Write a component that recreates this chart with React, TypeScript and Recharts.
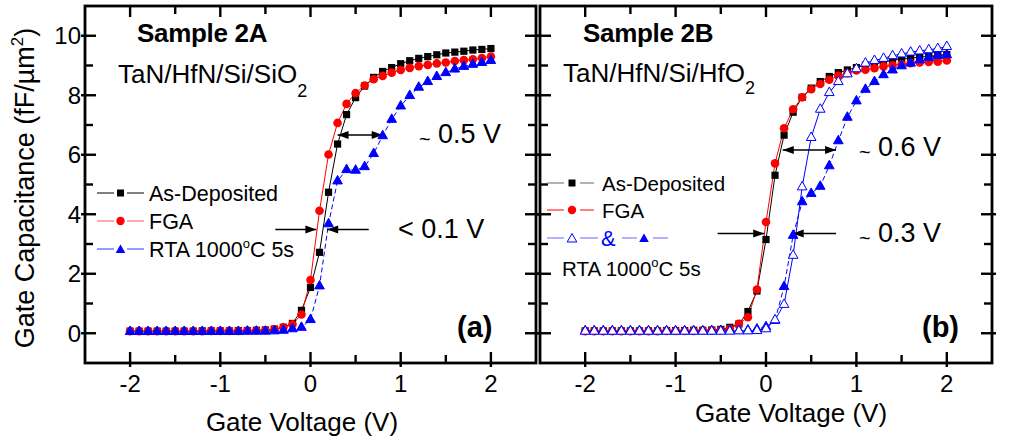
import React from 'react';
import { LineChart, Line, XAxis, YAxis, ReferenceLine } from 'recharts';

const FONT = '"Liberation Sans", Arial, Helvetica, sans-serif';

// Gate voltage (V)
const voltages = [
  -2.0, -1.9, -1.8, -1.7, -1.6, -1.5, -1.4, -1.3, -1.2, -1.1, -1.0, -0.9, -0.8, -0.7, -0.6,
  -0.5, -0.4, -0.3, -0.2, -0.1, 0.0, 0.1, 0.2, 0.3, 0.4, 0.5, 0.6, 0.7, 0.8, 0.9, 1.0,
  1.1, 1.2, 1.3, 1.4, 1.5, 1.6, 1.7, 1.8, 1.9, 2.0,
];

// Sample 2A (fF/um^2)
const asDep2A = [
  0.07, 0.07, 0.07, 0.07, 0.07, 0.07, 0.07, 0.07, 0.08, 0.08, 0.08, 0.08, 0.09, 0.09, 0.1,
  0.11, 0.14, 0.2, 0.33, 0.77, 1.54, 2.72, 4.74, 6.36, 7.35, 7.92, 8.31, 8.6, 8.8, 8.93, 9.06,
  9.16, 9.24, 9.3, 9.36, 9.42, 9.45, 9.48, 9.52, 9.54, 9.57,
];
const fga2A = [
  0.07, 0.07, 0.07, 0.07, 0.07, 0.07, 0.07, 0.07, 0.07, 0.08, 0.08, 0.08, 0.08, 0.09, 0.09,
  0.1, 0.13, 0.2, 0.3, 0.63, 1.79, 4.12, 6.01, 7.07, 7.71, 8.07, 8.33, 8.54, 8.65, 8.76, 8.85,
  8.92, 8.98, 9.02, 9.07, 9.1, 9.15, 9.18, 9.21, 9.25, 9.3,
];
const rta2A = [
  0.06, 0.06, 0.06, 0.06, 0.06, 0.06, 0.06, 0.06, 0.06, 0.06, 0.06, 0.06, 0.06, 0.07, 0.07,
  0.07, 0.08, 0.1, 0.15, 0.2, 0.46, 1.59, 3.68, 5.12, 5.5, 5.48, 5.6, 6.04, 6.64, 7.19, 7.64,
  7.99, 8.27, 8.46, 8.63, 8.76, 8.88, 8.97, 9.04, 9.1, 9.17,
];

// Sample 2B (fF/um^2)
const asDep2B = [
  0.08, 0.08, 0.08, 0.08, 0.08, 0.08, 0.08, 0.08, 0.08, 0.09, 0.09, 0.09, 0.1, 0.1, 0.11,
  0.13, 0.2, 0.31, 0.73, 1.42, 3.15, 5.31, 6.66, 7.43, 7.93, 8.24, 8.46, 8.63, 8.76, 8.85, 8.93,
  9.01, 9.08, 9.12, 9.18, 9.21, 9.25, 9.28, 9.31, 9.34, 9.37,
];
const fga2B = [
  0.07, 0.07, 0.07, 0.07, 0.07, 0.07, 0.07, 0.07, 0.07, 0.08, 0.08, 0.08, 0.08, 0.09, 0.09,
  0.1, 0.15, 0.32, 0.54, 1.47, 3.74, 5.71, 6.89, 7.53, 7.93, 8.2, 8.38, 8.52, 8.65, 8.74, 8.83,
  8.86, 8.91, 8.97, 9.01, 9.04, 9.08, 9.1, 9.12, 9.13, 9.17,
];
const rtaOpen2B = [
  0.07, 0.07, 0.07, 0.07, 0.07, 0.07, 0.07, 0.07, 0.07, 0.07, 0.07, 0.07, 0.07, 0.07, 0.07,
  0.07, 0.07, 0.08, 0.08, 0.09, 0.15, 0.45, 0.97, 2.62, 4.92, 6.58, 7.53, 8.09, 8.46, 8.72, 8.89,
  9.08, 9.17, 9.24, 9.33, 9.39, 9.45, 9.49, 9.53, 9.57, 9.64,
];
const rtaFilled2B = [
  0.08, 0.08, 0.08, 0.08, 0.08, 0.08, 0.08, 0.08, 0.08, 0.08, 0.08, 0.08, 0.08, 0.08, 0.08,
  0.09, 0.09, 0.1, 0.11, 0.14, 0.22, 0.43, 1.57, 3.29, 4.42, 4.7, 4.94, 5.63, 6.47, 7.26, 7.81,
  8.2, 8.46, 8.69, 8.85, 8.99, 9.08, 9.19, 9.27, 9.33, 9.36,
];

const xTicks = [-2, -1.5, -1, -0.5, 0, 0.5, 1, 1.5, 2];
const yTicks = [0, 1, 2, 3, 4, 5, 6, 7, 8, 9, 10];
const xDomain = [-2.5, 2.5];
const yDomain = [-1, 11];

// Arrow annotations (data units)
const arrows2A = [
  { x1: 0.3, x2: 0.8, y: 6.66, heads: 'both' },
  { x1: -0.39, x2: 0.065, y: 3.49, heads: 'end' },
  { x1: 0.646, x2: 0.185, y: 3.49, heads: 'end' },
];
const arrows2B = [
  { x1: 0.185, x2: 0.775, y: 6.16, heads: 'both' },
  { x1: -0.535, x2: -0.02, y: 3.35, heads: 'end' },
  { x1: 0.775, x2: 0.295, y: 3.35, heads: 'end' },
];

const dataA = voltages.map((v, i) => ({ v, a: asDep2A[i], f: fga2A[i], r: rta2A[i] }));
const dataB = voltages.map((v, i) => ({ v, a: asDep2B[i], f: fga2B[i], ro: rtaOpen2B[i], rf: rtaFilled2B[i] }));

const isMajor = (v: number) => Math.abs(v - Math.round(v)) < 1e-6;
const isEven = (v: number) => Math.round(v) % 2 === 0;

// Layout (page pixels)
const H = 441;
const TOP = 6;
const XAX_H = 78;
const LEFT_W = 540, LEFT_AX = 85, LEFT_MR = 3, LEFT_RW = 1;
const RIGHT_X = 537, RIGHT_W = 496, RIGHT_ML = 2, RIGHT_LW = 1, RIGHT_AX = 41;
const plotA = { l: LEFT_AX, r: LEFT_W - LEFT_MR - LEFT_RW, t: TOP, b: H - XAX_H };
const plotB = { l: RIGHT_X + RIGHT_ML + RIGHT_LW, r: RIGHT_X + RIGHT_W - RIGHT_AX, t: TOP, b: H - XAX_H };

// Axis label renderers (text only)
const BottomLabel = (p: any) => {
  const v = p.payload.value;
  if (!isMajor(v)) return <g />;
  return (
    <text x={Number(p.x)} y={Number(p.y) + 29} textAnchor="middle" fontFamily={FONT} fontSize={24} fill="#000">
      {String(v)}
    </text>
  );
};
const LeftLabel = (show: boolean) => (p: any) => {
  const v = p.payload.value;
  if (!show || !isEven(v)) return <g />;
  return (
    <text x={Number(p.x) - 4} y={Number(p.y) + 8.5} textAnchor="end" fontFamily={FONT} fontSize={24} fill="#000">
      {String(v)}
    </text>
  );
};
const RightLabel = (show: boolean) => (p: any) => {
  const v = p.payload.value;
  if (!show || !isEven(v)) return <g />;
  return (
    <text x={Number(p.x) + 9} y={Number(p.y) + 8.5} textAnchor="start" fontFamily={FONT} fontSize={24} fill="#000">
      {String(v)}
    </text>
  );
};

const SquareDot = (p: any) =>
  p.cx == null ? <g key={p.index} /> : (
    <rect key={p.index} x={p.cx - 3.6} y={p.cy - 3.6} width={7.2} height={7.2} fill="#000" />
  );
const CircleDot = (p: any) =>
  p.cx == null ? <g key={p.index} /> : <circle key={p.index} cx={p.cx} cy={p.cy} r={4.3} fill="#ff0000" />;
const triPts = (cx: number, cy: number) => `${cx},${cy - 5.5} ${cx - 4.8},${cy + 3} ${cx + 4.8},${cy + 3}`;
const TriDot = (filled: boolean) => (p: any) =>
  p.cx == null ? <g key={p.index} /> : (
    <polygon key={p.index} points={triPts(p.cx, p.cy)} fill={filled ? '#0000ff' : '#ffffff'} stroke="#0000ff" strokeWidth={1} />
  );

const arrowShape = (heads: string) => (p: any) => {
  const { x1, y1, x2, y2 } = p;
  const L = 11;
  const W = 4;
  const head = (tx: number, ty: number, dir: number) =>
    `${tx},${ty} ${tx - dir * L},${ty - W} ${tx - dir * L},${ty + W}`;
  const dir = x2 > x1 ? 1 : -1;
  return (
    <g>
      <line x1={x1} y1={y1} x2={x2} y2={y2} stroke="#000" strokeWidth={1.5} />
      <polygon points={head(x2, y2, dir)} fill="#000" />
      {heads === 'both' && <polygon points={head(x1, y1, -dir)} fill="#000" />}
    </g>
  );
};

// Frame + tick marks for a panel (ticks as thin filled rects)
const Frame = ({ r }: any) => {
  const sx = (v: number) => r.l + ((v - xDomain[0]) / (xDomain[1] - xDomain[0])) * (r.r - r.l);
  const sy = (v: number) => r.b - ((v - yDomain[0]) / (yDomain[1] - yDomain[0])) * (r.b - r.t);
  const T = 2.4;
  return (
    <g>
      <rect x={r.l} y={r.t} width={r.r - r.l} height={r.b - r.t} fill="none" stroke="#000" strokeWidth={2.8} />
      {xTicks.map((t) => {
        const m = isMajor(t);
        const x = sx(t);
        const L = m ? 11 : 8;
        return (
          <g key={'x' + t}>
            <rect x={x - T / 2} y={r.t} width={T} height={L} fill="#000" />
            <rect x={x - T / 2} y={r.b - L} width={T} height={L + (m ? 4 : 1)} fill="#000" />
          </g>
        );
      })}
      {yTicks.map((t) => {
        const m = isEven(t);
        const y = sy(t);
        const L = m ? 11 : 8;
        const o = m ? 4 : 1;
        return (
          <g key={'y' + t}>
            <rect x={r.l - o} y={y - T / 2} width={L + o} height={T} fill="#000" />
            <rect x={r.r - L} y={y - T / 2} width={L + o} height={T} fill="#000" />
          </g>
        );
      })}
    </g>
  );
};

const Panel = ({ data, arrows, children, width, margin, leftLabels, rightLabels, leftW, rightW }: any) => (
  <LineChart width={width} height={H} data={data} margin={margin}>
    <XAxis xAxisId="b" dataKey="v" type="number" domain={xDomain} ticks={xTicks} interval={0}
      height={XAX_H} tickSize={0} tickMargin={0} axisLine={false} tickLine={false} tick={BottomLabel} />
    <YAxis yAxisId="l" type="number" domain={yDomain} ticks={yTicks} interval={0} width={leftW}
      tickSize={0} tickMargin={0} axisLine={false} tickLine={false} tick={LeftLabel(leftLabels)} />
    <YAxis yAxisId="r" orientation="right" type="number" domain={yDomain} ticks={yTicks} interval={0} width={rightW}
      tickSize={0} tickMargin={0} axisLine={false} tickLine={false} tick={RightLabel(rightLabels)} />
    {children}
    {arrows.map((a: any, i: number) => (
      <ReferenceLine key={'ar' + i} xAxisId="b" yAxisId="l"
        segment={[{ x: a.x1, y: a.y }, { x: a.x2, y: a.y }]}
        shape={arrowShape(a.heads)} ifOverflow="visible" />
    ))}
  </LineChart>
);

const txt = (extra: any = {}) => ({ fontFamily: FONT, fill: '#000', ...extra });

export default function App() {
  return (
    <div style={{ position: 'absolute', left: 0, top: 0, width: 1033, height: 441, background: '#fff', overflow: 'hidden' }}>
      <div style={{ position: 'absolute', left: 0, top: 0 }}>
        <Panel data={dataA} arrows={arrows2A} width={LEFT_W} margin={{ top: TOP, right: LEFT_MR, bottom: 0, left: 0 }}
          leftLabels={true} rightLabels={false} leftW={LEFT_AX} rightW={LEFT_RW}>
          <Line xAxisId="b" yAxisId="l" dataKey="a" stroke="#000" strokeWidth={1} dot={SquareDot} activeDot={false} isAnimationActive={false} />
          <Line xAxisId="b" yAxisId="l" dataKey="f" stroke="#ff0000" strokeWidth={1} dot={CircleDot} activeDot={false} isAnimationActive={false} />
          <Line xAxisId="b" yAxisId="l" dataKey="r" stroke="#0000ff" strokeWidth={1} strokeDasharray="5 3" dot={TriDot(true)} activeDot={false} isAnimationActive={false} />
        </Panel>
      </div>
      <div style={{ position: 'absolute', left: RIGHT_X, top: 0 }}>
        <Panel data={dataB} arrows={arrows2B} width={RIGHT_W} margin={{ top: TOP, right: 0, bottom: 0, left: RIGHT_ML }}
          leftLabels={false} rightLabels={true} leftW={RIGHT_LW} rightW={RIGHT_AX}>
          <Line xAxisId="b" yAxisId="l" dataKey="a" stroke="#000" strokeWidth={1} dot={SquareDot} activeDot={false} isAnimationActive={false} />
          <Line xAxisId="b" yAxisId="l" dataKey="f" stroke="#ff0000" strokeWidth={1} dot={CircleDot} activeDot={false} isAnimationActive={false} />
          <Line xAxisId="b" yAxisId="l" dataKey="rf" stroke="#0000ff" strokeWidth={1} strokeDasharray="5 3" dot={TriDot(true)} activeDot={false} isAnimationActive={false} />
          <Line xAxisId="b" yAxisId="l" dataKey="ro" stroke="#0000ff" strokeWidth={1} dot={TriDot(false)} activeDot={false} isAnimationActive={false} />
        </Panel>
      </div>
      <svg width={1033} height={441} style={{ position: 'absolute', left: 0, top: 0, pointerEvents: 'none' }}>
        <Frame r={plotA} />
        <Frame r={plotB} />

        {/* Y axis title */}
        <text transform="translate(34,188) rotate(-90)" textAnchor="middle" {...txt({ fontSize: 27 })}>
          Gate Capacitance (fF/µm<tspan dy={-11} fontSize={17}>2</tspan><tspan dy={11}>)</tspan>
        </text>
        {/* X axis titles */}
        <text x={302} y={431} textAnchor="middle" {...txt({ fontSize: 26 })}>Gate Voltage (V)</text>
        <text x={791} y={422} textAnchor="middle" {...txt({ fontSize: 26 })}>Gate Voltage (V)</text>

        {/* Panel (a) */}
        <text x={137} y={42} {...txt({ fontSize: 26, fontWeight: 'bold', letterSpacing: -0.3 })}>Sample 2A</text>
        <text x={118} y={83} {...txt({ fontSize: 26 })}>TaN/HfN/Si/SiO<tspan dy={14} fontSize={18}>2</tspan></text>
        <text x={419} y={146} {...txt({ fontSize: 20 })}>~</text>
        <text x={438} y={143} {...txt({ fontSize: 27 })}>0.5 V</text>
        <text x={398} y={238} {...txt({ fontSize: 27 })}>&lt; 0.1 V</text>
        <text x={457} y={337} {...txt({ fontSize: 29, fontWeight: 'bold' })}>(a)</text>

        {/* Legend (a) */}
        <line x1={97} x2={114} y1={193} y2={193} stroke="#000" strokeWidth={1} />
        <line x1={127} x2={144} y1={193} y2={193} stroke="#000" strokeWidth={1} />
        <rect x={117} y={189.5} width={7} height={7} fill="#000" />
        <text x={149} y={201} {...txt({ fontSize: 21.5 })}>As-Deposited</text>
        <line x1={97} x2={114} y1={221} y2={221} stroke="#ff5555" strokeWidth={1} />
        <line x1={127} x2={144} y1={221} y2={221} stroke="#ff5555" strokeWidth={1} />
        <circle cx={120.5} cy={221} r={4.2} fill="#ff0000" />
        <text x={149} y={229} {...txt({ fontSize: 21.5 })}>FGA</text>
        <line x1={97} x2={114} y1={249} y2={249} stroke="#3333ff" strokeWidth={1} />
        <line x1={127} x2={144} y1={249} y2={249} stroke="#3333ff" strokeWidth={1} />
        <polygon points={triPts(120.5, 250)} fill="#0000ff" />
        <text x={149} y={257} {...txt({ fontSize: 21.5 })}>RTA 1000<tspan dy={-9} fontSize={13}>o</tspan><tspan dy={9}>C 5s</tspan></text>

        {/* Panel (b) */}
        <text x={583} y={42} {...txt({ fontSize: 26, fontWeight: 'bold', letterSpacing: -0.3 })}>Sample 2B</text>
        <text x={563} y={82} {...txt({ fontSize: 26 })}>TaN/HfN/Si/HfO<tspan dy={12} fontSize={18}>2</tspan></text>
        <text x={859} y={159} {...txt({ fontSize: 20 })}>~</text>
        <text x={878} y={156} {...txt({ fontSize: 27 })}>0.6 V</text>
        <text x={859} y={245} {...txt({ fontSize: 20 })}>~</text>
        <text x={878} y={242} {...txt({ fontSize: 27 })}>0.3 V</text>
        <text x={922} y={337} {...txt({ fontSize: 29, fontWeight: 'bold' })}>(b)</text>

        {/* Legend (b) */}
        <line x1={547} x2={564} y1={183} y2={183} stroke="#666" strokeWidth={1} />
        <line x1={580} x2={594} y1={183} y2={183} stroke="#666" strokeWidth={1} />
        <rect x={568.5} y={179.5} width={7} height={7} fill="#000" />
        <text x={602} y={191} {...txt({ fontSize: 20.5 })}>As-Deposited</text>
        <line x1={547} x2={564} y1={210} y2={210} stroke="#ff0000" strokeWidth={1} />
        <line x1={580} x2={594} y1={210} y2={210} stroke="#ff0000" strokeWidth={1} />
        <circle cx={572} cy={210} r={4.2} fill="#ff0000" />
        <text x={602} y={218} {...txt({ fontSize: 20.5 })}>FGA</text>
        <line x1={547} x2={564} y1={238} y2={238} stroke="#6666ff" strokeWidth={1} />
        <line x1={580} x2={598} y1={238} y2={238} stroke="#6666ff" strokeWidth={1} />
        <polygon points={triPts(572, 239)} fill="#fff" stroke="#0000ff" strokeWidth={1} />
        <text x={601} y={246} {...txt({ fontSize: 22, fill: '#0000ff' })}>&amp;</text>
        <line x1={622} x2={637} y1={238} y2={238} stroke="#6666ff" strokeWidth={1} />
        <polygon points={triPts(644, 239)} fill="#0000ff" />
        <line x1={653} x2={668} y1={238} y2={238} stroke="#6666ff" strokeWidth={1} />
        <text x={562} y={276} {...txt({ fontSize: 20.5 })}>RTA 1000<tspan dy={-9} fontSize={13}>o</tspan><tspan dy={9}>C 5s</tspan></text>
      </svg>
    </div>
  );
}
